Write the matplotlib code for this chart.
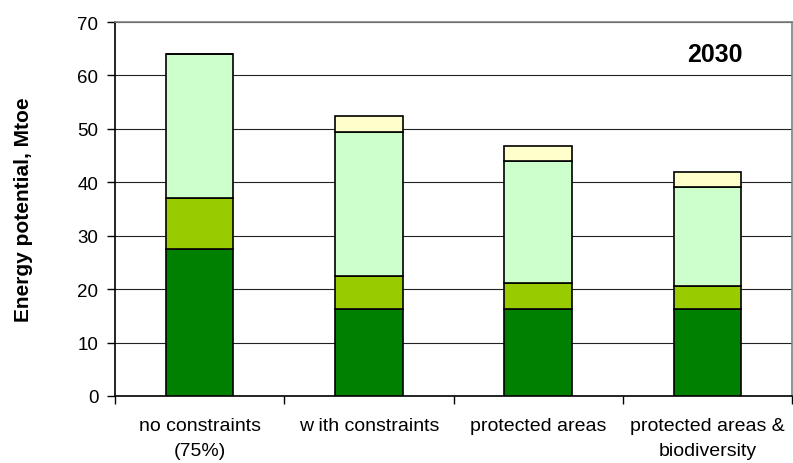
from matplotlib import pyplot as plt
import numpy as np

# scenarios along the x axis
scenarios = ["no constraints\n(75%)", "w ith constraints", "protected areas",
             "protected areas &\nbiodiversity"]

# stacked contributions per scenario, Mtoe (bottom to top)
dark_green = [27.5, 16.2, 16.2, 16.2]
lime_green = [9.5, 6.2, 5.0, 4.4]
pale_green = [27.0, 27.1, 22.7, 18.5]
cream = [0.0, 3.0, 2.8, 2.8]

colors = ["#008000", "#99CC00", "#CCFFCC", "#FFFFCC"]
yticks = [0, 10, 20, 30, 40, 50, 60, 70]

plt.rcParams["font.family"] = ["Liberation Sans", "DejaVu Sans"]

fig = plt.figure(figsize=(7.93, 4.64), dpi=100)
ax = fig.add_axes([115 / 793, 67 / 464, 677 / 793, 374 / 464])

x = np.arange(len(scenarios))
bottom = np.zeros(len(scenarios))
for vals, col in zip([dark_green, lime_green, pale_green, cream], colors):
    vals = np.array(vals)
    ax.bar(x, vals, width=0.40, bottom=bottom, color=col,
           edgecolor="black", linewidth=1.2, zorder=3)
    bottom += vals

ax.set_xlim(-0.5, len(scenarios) - 0.5)
ax.set_ylim(0, 70)
ax.set_yticks(yticks)
ax.yaxis.grid(True, color="#222222", linewidth=0.8, zorder=0)

# category boundaries get the tick marks, centres get the labels
ax.set_xticks(np.arange(len(scenarios) + 1) - 0.5)
ax.set_xticklabels([])
ax.set_xticks(x, minor=True)
ax.set_xticklabels(scenarios, minor=True, fontsize=14, linespacing=1.6)
ax.tick_params(axis="x", which="major", length=6, direction="out", width=1)
ax.tick_params(axis="x", which="minor", length=0, pad=15)
ax.tick_params(axis="y", length=6, width=1, labelsize=13.5, pad=6)

for side in ["top", "right"]:
    ax.spines[side].set_color("#808080")
    ax.spines[side].set_linewidth(1.2)
for side in ["left", "bottom"]:
    ax.spines[side].set_color("black")
    ax.spines[side].set_linewidth(1.2)

ax.set_ylabel("Energy potential, Mtoe", fontsize=15, fontweight="bold",
              labelpad=32)
ax.text(0.886, 0.915, "2030", transform=ax.transAxes, ha="center",
        va="center", fontsize=18, fontweight="bold")

fig.savefig("out.png", dpi=100)
